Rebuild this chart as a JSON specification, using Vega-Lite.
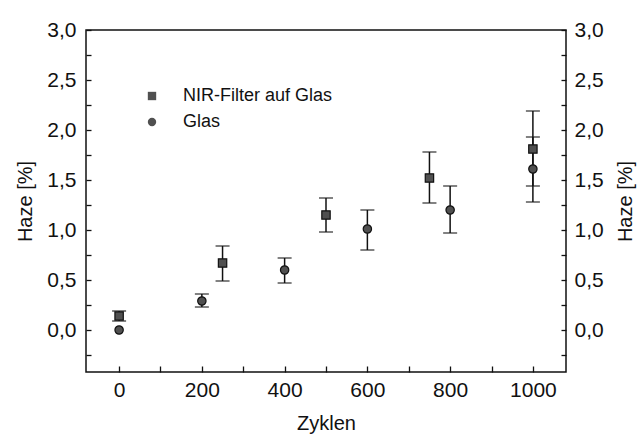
{
  "$schema": "https://vega.github.io/schema/vega-lite/v6.json",
  "width": 480,
  "height": 342,
  "autosize": {"type": "none"},
  "padding": {"left": 86, "top": 30, "right": 71, "bottom": 62},
  "background": "white",
  "config": {
    "font": "Liberation Sans",
    "view": {"stroke": "#111", "strokeWidth": 1.5},
    "axis": {
      "grid": false,
      "domain": false,
      "tickColor": "#111",
      "tickWidth": 1.3,
      "labelColor": "#111",
      "titleColor": "#111",
      "labelFontSize": 21,
      "titleFontSize": 20,
      "titleFontWeight": "normal",
      "labelFont": "Liberation Sans",
      "titleFont": "Liberation Sans"
    }
  },
  "data": {
    "values": [
      {"series": "NIR-Filter auf Glas", "x": 0, "y": 0.14, "lo": 0.09, "hi": 0.19},
      {"series": "NIR-Filter auf Glas", "x": 250, "y": 0.67, "lo": 0.49, "hi": 0.84},
      {"series": "NIR-Filter auf Glas", "x": 500, "y": 1.15, "lo": 0.98, "hi": 1.32},
      {"series": "NIR-Filter auf Glas", "x": 750, "y": 1.52, "lo": 1.27, "hi": 1.78},
      {"series": "NIR-Filter auf Glas", "x": 1000, "y": 1.81, "lo": 1.44, "hi": 2.19},
      {"series": "Glas", "x": 0, "y": 0.0, "lo": null, "hi": null},
      {"series": "Glas", "x": 200, "y": 0.29, "lo": 0.23, "hi": 0.36},
      {"series": "Glas", "x": 400, "y": 0.60, "lo": 0.47, "hi": 0.72},
      {"series": "Glas", "x": 600, "y": 1.01, "lo": 0.80, "hi": 1.20},
      {"series": "Glas", "x": 800, "y": 1.20, "lo": 0.97, "hi": 1.44},
      {"series": "Glas", "x": 1000, "y": 1.61, "lo": 1.28, "hi": 1.93}
    ]
  },
  "encoding": {
    "x": {
      "field": "x",
      "type": "quantitative",
      "scale": {"domain": [-80, 1080], "nice": false, "zero": false},
      "axis": {
        "title": "Zyklen",
        "values": [0, 100, 200, 300, 400, 500, 600, 700, 800, 900, 1000],
        "labelExpr": "datum.value % 200 == 0 ? datum.value : ''",
        "offset": -6,
        "tickSize": 6,
        "labelPadding": 7,
        "labelFlush": false,
        "titleX": 240,
        "titleY": 57,
        "titleAlign": "center",
        "titleBaseline": "middle"
      }
    }
  },
  "layer": [
    {
      "layer": [
        {
          "mark": {"type": "rule", "color": "#111", "strokeWidth": 1.5},
          "encoding": {
            "y": {
              "field": "lo",
              "type": "quantitative",
              "title": "Haze [%]",
              "scale": {"domain": [-0.42, 3.0], "nice": false, "zero": false},
              "axis": {
                "orient": "left",
                "title": "Haze [%]",
                "values": [-0.25, 0, 0.25, 0.5, 0.75, 1, 1.25, 1.5, 1.75, 2, 2.25, 2.5, 2.75, 3],
                "labelExpr": "datum.value % 0.5 == 0 ? replace(format(datum.value, '.1f'), '.', ',') : ''",
                "offset": -5,
                "tickSize": 5,
                "labelPadding": 10,
                "labelFlush": false,
                "titleX": -66,
                "titleY": 171,
                "titleAngle": 270,
                "titleAlign": "center",
                "titleBaseline": "middle"
              }
            },
            "y2": {"field": "hi"}
          }
        },
        {
          "mark": {"type": "tick", "orient": "horizontal", "size": 14, "thickness": 1.5, "color": "#111"},
          "encoding": {
            "y": {
              "field": "lo",
              "type": "quantitative",
              "title": "Haze [%]",
              "axis": {
                "orient": "left",
                "title": "Haze [%]",
                "values": [-0.25, 0, 0.25, 0.5, 0.75, 1, 1.25, 1.5, 1.75, 2, 2.25, 2.5, 2.75, 3],
                "labelExpr": "datum.value % 0.5 == 0 ? replace(format(datum.value, '.1f'), '.', ',') : ''",
                "offset": -5,
                "tickSize": 5,
                "labelPadding": 10,
                "labelFlush": false,
                "titleX": -66,
                "titleY": 171,
                "titleAngle": 270,
                "titleAlign": "center",
                "titleBaseline": "middle"
              }
            }
          }
        },
        {
          "mark": {"type": "tick", "orient": "horizontal", "size": 14, "thickness": 1.5, "color": "#111"},
          "encoding": {
            "y": {
              "field": "hi",
              "type": "quantitative",
              "title": "Haze [%]",
              "axis": {
                "orient": "left",
                "title": "Haze [%]",
                "values": [-0.25, 0, 0.25, 0.5, 0.75, 1, 1.25, 1.5, 1.75, 2, 2.25, 2.5, 2.75, 3],
                "labelExpr": "datum.value % 0.5 == 0 ? replace(format(datum.value, '.1f'), '.', ',') : ''",
                "offset": -5,
                "tickSize": 5,
                "labelPadding": 10,
                "labelFlush": false,
                "titleX": -66,
                "titleY": 171,
                "titleAngle": 270,
                "titleAlign": "center",
                "titleBaseline": "middle"
              }
            }
          }
        },
        {
          "mark": {"type": "point", "filled": true, "fill": "#505050", "stroke": "#111", "strokeWidth": 1.2, "size": 70, "opacity": 1},
          "encoding": {
            "y": {
              "field": "y",
              "type": "quantitative",
              "title": "Haze [%]",
              "axis": {
                "orient": "left",
                "title": "Haze [%]",
                "values": [-0.25, 0, 0.25, 0.5, 0.75, 1, 1.25, 1.5, 1.75, 2, 2.25, 2.5, 2.75, 3],
                "labelExpr": "datum.value % 0.5 == 0 ? replace(format(datum.value, '.1f'), '.', ',') : ''",
                "offset": -5,
                "tickSize": 5,
                "labelPadding": 10,
                "labelFlush": false,
                "titleX": -66,
                "titleY": 171,
                "titleAngle": 270,
                "titleAlign": "center",
                "titleBaseline": "middle"
              }
            },
            "shape": {
              "field": "series",
              "type": "nominal",
              "scale": {"domain": ["NIR-Filter auf Glas", "Glas"], "range": ["square", "circle"]},
              "legend": {
                "title": null,
                "orient": "none",
                "legendX": 57,
                "legendY": 57,
                "labelFontSize": 18,
                "labelFont": "Liberation Sans",
                "labelColor": "#111",
                "labelOffset": 22,
                "symbolSize": 70,
                "symbolFillColor": "#505050",
                "symbolStrokeColor": "#111",
                "symbolStrokeWidth": 1.2,
                "rowPadding": 8,
                "padding": 0
              }
            }
          }
        }
      ]
    },
    {
      "mark": {"type": "point", "opacity": 0},
      "encoding": {
        "y": {
          "field": "y",
          "type": "quantitative",
          "scale": {"domain": [-0.42, 3.0], "nice": false, "zero": false},
          "axis": {
            "orient": "right",
            "title": "Haze [%]",
            "values": [-0.25, 0, 0.25, 0.5, 0.75, 1, 1.25, 1.5, 1.75, 2, 2.25, 2.5, 2.75, 3],
            "labelExpr": "datum.value % 0.5 == 0 ? replace(format(datum.value, '.1f'), '.', ',') : ''",
            "offset": -5,
            "tickSize": 5,
            "labelPadding": 8,
            "labelFlush": false,
            "titleX": 64,
            "titleY": 171,
            "titleAngle": 270,
            "titleAlign": "center",
            "titleBaseline": "middle"
          }
        }
      }
    }
  ],
  "resolve": {"scale": {"y": "independent"}}
}
